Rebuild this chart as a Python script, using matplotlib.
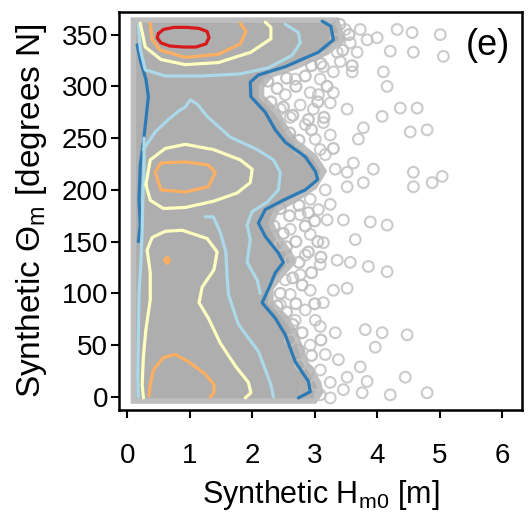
import matplotlib
matplotlib.use("Agg")
import matplotlib.pyplot as plt
import numpy as np

plt.rcParams['font.family'] = ['Liberation Sans', 'DejaVu Sans']
plt.rcParams['mathtext.fontset'] = 'custom'
plt.rcParams['mathtext.rm'] = 'Liberation Sans'

# scattered (outer) samples: Hm0 [m], theta [deg N]
outer_hs = [4.00, 4.32, 4.56, 5.01, 4.58, 5.06, 4.21, 3.84, 3.57, 3.73, 4.10, 4.16, 3.60, 3.30,
            4.37, 4.64, 4.08, 4.53, 4.80, 3.78, 3.70, 4.58, 4.58, 4.88, 5.04, 3.94, 3.62, 3.52,
            3.78, 3.52, 3.25, 2.98, 3.14, 3.52, 3.30, 2.93, 3.36, 3.14, 3.68, 3.89, 4.16, 3.65,
            3.14, 3.46, 3.20, 3.86, 4.16, 3.57, 3.36, 3.52, 3.30, 3.14, 3.81, 4.08, 4.48, 3.97,
            3.33, 3.09, 3.73, 3.38, 3.84, 4.45, 4.21, 4.80, 3.76, 3.46, 3.25, 3.52,
            3.09, 3.06, 2.77, 2.61, 2.85, 3.01, 3.25, 3.17, 3.33, 3.17, 3.25, 2.93, 2.77, 2.61,
            2.93, 2.85, 3.09, 2.77, 2.61, 2.93, 2.85, 2.69, 3.01, 2.93, 3.17, 3.09, 3.25, 3.49,
            3.33, 3.41, 2.69, 2.53, 2.45, 2.77, 3.09, 3.06, 2.45, 2.61, 2.53, 2.45, 2.61, 2.77,
            3.01, 3.09]
outer_theta = [347, 355, 352, 350, 333, 329, 334, 345, 342, 355, 314, 300, 314, 314,
               279, 279, 271, 256, 258, 260, 249, 217, 203, 207, 213, 220, 226, 217,
               207, 203, 284, 278, 265, 278, 294, 294, 333, 319, 333, 169, 166, 152,
               149, 171, 171, 126, 121, 130, 132, 105, 103, 91, 65, 62, 60, 48,
               62, 68, 29, 36, 15, 19, 2, 4, 4, 7, 14, 19,
               307, 292, 282, 270, 263, 249, 253, 234, 220, 200, 186, 191, 176, 162,
               157, 137, 128, 118, 99, 103, 84, 74, 74, 50, 41, 26, -1, 355,
               345, 324, 307, 292, 278, 239, 239, 181, 147, 132, 113, 89, 55, 31,
               12, 2]

# overlapping samples just outside the dense core
fringe_hs = [2.25, 2.40, 2.55, 2.70, 2.85, 2.95, 3.10, 2.30, 2.50, 2.65, 2.90, 3.05, 3.20,
             2.40, 2.60, 2.75, 2.95, 3.15, 3.30,
             2.45, 2.60, 2.75, 2.90, 2.35, 2.50, 2.70, 2.85, 3.00, 2.55, 2.75, 2.90, 3.05,
             2.65, 2.80, 2.45, 2.95, 3.10,
             2.40, 2.55, 2.70, 2.65, 2.80, 2.75, 2.95, 2.90, 3.10, 3.00, 2.85,
             3.45, 3.55, 3.40, 3.60]
fringe_theta = [305, 298, 308, 300, 310, 320, 322, 285, 280, 272, 268, 285, 300,
                262, 255, 248, 258, 270, 240,
                182, 175, 185, 178, 165, 158, 150, 165, 170, 145, 130, 140, 150,
                115, 108, 100, 120, 135,
                88, 82, 90, 70, 62, 45, 40, 25, 55, 90, 5,
                335, 350, 360, 320]

# envelope of the dense sample cloud
cloud_hs = [0.10, 0.10, 3.35, 3.45, 3.20, 2.70, 2.30, 2.15, 2.15, 2.40, 2.55, 2.70, 3.00,
            3.15, 3.00, 2.70, 2.40, 2.30, 2.40, 2.60, 2.65, 2.50, 2.30, 2.30, 2.55, 2.70,
            2.85, 3.05, 3.10, 3.00]
cloud_theta = [-4, 364, 364, 345, 333, 319, 311, 300, 290, 275, 258, 246, 232,
               218, 203, 191, 181, 168, 155, 139, 130, 120, 105, 91, 76, 60,
               34, 15, 5, -4]

# density contours (outermost -> innermost)
blue_right_hs = [3.12, 3.26, 3.30, 3.06, 2.53, 2.10, 1.97, 1.98, 2.21, 2.37, 2.53, 2.85, 3.01,
                 3.05, 2.85, 2.53, 2.21, 2.10, 2.21, 2.42, 2.50, 2.37, 2.29, 2.16, 2.37,
                 2.53, 2.69, 2.90, 2.93, 2.74]
blue_right_theta = [363, 358, 345, 333, 319, 311, 304, 290, 275, 258, 246, 232, 218,
                    210, 200, 191, 181, 168, 155, 139, 130, 120, 108, 91, 76,
                    60, 34, 15, 5, -1]
blue_left_hs = [0.16, 0.22, 0.30, 0.34, 0.30, 0.26, 0.21, 0.19, 0.21, 0.18]
blue_left_theta = [340, 323, 307, 290, 268, 246, 224, 191, 166, 150]

lblue_top_hs = [2.53, 2.74, 2.77, 2.64, 2.26, 1.81, 1.17, 0.61, 0.29, 0.21, 0.18]
lblue_top_theta = [360, 352, 342, 330, 318, 312, 310, 310, 316, 336, 360]
lblue_mid_hs = [0.26, 0.45, 0.66, 0.82, 0.93, 1.01, 1.12, 1.28, 1.65, 2.08, 2.34, 2.45, 2.42,
                2.24, 2.00, 1.92, 1.97, 1.92, 2.08, 2.13]
lblue_mid_theta = [239, 256, 268, 276, 280, 287, 283, 271, 251, 239, 229, 217, 200,
                   188, 179, 166, 152, 130, 113, 100]
lblue_low_hs = [1.25, 1.38, 1.49, 1.58, 1.60, 1.62, 1.78, 2.10, 2.30, 2.34]
lblue_low_theta = [174, 174, 159, 140, 116, 99, 70, 44, 12, 0]
lblue_left_hs = [0.27, 0.27, 0.25, 0.24, 0.22, 0.19, 0.18, 0.17, 0.18]
lblue_left_theta = [250, 220, 190, 160, 130, 100, 60, 20, 0]

yellow_top_hs = [0.21, 0.29, 0.54, 0.93, 1.46, 1.98, 2.30, 2.30, 2.21]
yellow_top_theta = [361, 338, 326, 321, 323, 333, 346, 357, 362]
yellow_mid_hs = [0.30, 0.37, 0.61, 0.93, 1.38, 1.81, 2.00, 1.97, 1.76, 1.38, 0.93, 0.58,
                 0.37, 0.30]
yellow_mid_theta = [205, 229, 240, 244, 239, 229, 220, 207, 197, 189, 183, 182, 190, 205]
yellow_low_hs = [0.26, 0.24, 0.26, 0.30, 0.37, 0.37, 0.32, 0.40, 0.61, 0.88, 1.28, 1.44,
                 1.39, 1.20, 1.15, 1.30, 1.49, 1.73, 1.94, 1.98, 1.89]
yellow_low_theta = [-1, 12, 39, 65, 94, 120, 142, 154, 160, 161, 153, 140,
                    123, 106, 91, 76, 52, 30, 14, 4, -1]

orange_top_hs = [0.37, 0.40, 0.53, 0.93, 1.46, 1.81, 1.90, 1.81]
orange_top_theta = [361, 345, 335, 328, 331, 341, 353, 361]
orange_mid_hs = [0.45, 0.54, 0.93, 1.30, 1.41, 1.30, 0.93, 0.54, 0.45]
orange_mid_theta = [217, 226, 227, 224, 217, 203, 198, 200, 217]
orange_dot_hs = [0.60, 0.64, 0.68, 0.64, 0.60]
orange_dot_theta = [132, 135, 132, 129, 132]
orange_low_hs = [0.35, 0.37, 0.42, 0.58, 0.77, 0.98, 1.25, 1.39, 1.39, 1.33]
orange_low_theta = [1, 12, 26, 38, 41, 34, 22, 12, 4, 0]

red_hs = [0.50, 0.58, 0.75, 0.95, 1.15, 1.28, 1.31, 1.26, 1.10, 0.90, 0.68, 0.54, 0.48, 0.50]
red_theta = [351, 355, 357, 357, 356, 353, 347, 341, 338, 338, 339, 342, 347, 351]

fig = plt.figure(figsize=(5.29, 5.15), dpi=100)
ax = fig.add_axes([0.225, 0.204, 0.762, 0.773])

# soft halo round the dense cloud, then the cloud itself
ax.fill(cloud_hs, cloud_theta, facecolor='#aeaeae', edgecolor='#bebebe', lw=4, zorder=1)
ax.scatter(fringe_hs, fringe_theta, s=60, facecolors='none', edgecolors='#b4b4b4',
           linewidths=1.6, alpha=0.8, zorder=1.5)
ax.scatter(outer_hs, outer_theta, s=60, facecolors='none', edgecolors='#c2c2c2',
           linewidths=1.5, alpha=0.85, zorder=2)

lines = [
    (blue_right_hs, blue_right_theta, '#2c7bb6'),
    (blue_left_hs, blue_left_theta, '#2c7bb6'),
    (lblue_top_hs, lblue_top_theta, '#abd9e9'),
    (lblue_mid_hs, lblue_mid_theta, '#abd9e9'),
    (lblue_low_hs, lblue_low_theta, '#abd9e9'),
    (lblue_left_hs, lblue_left_theta, '#abd9e9'),
    (yellow_top_hs, yellow_top_theta, '#ffffbf'),
    (yellow_mid_hs, yellow_mid_theta, '#ffffbf'),
    (yellow_low_hs, yellow_low_theta, '#ffffbf'),
    (orange_top_hs, orange_top_theta, '#fdae61'),
    (orange_mid_hs, orange_mid_theta, '#fdae61'),
    (orange_dot_hs, orange_dot_theta, '#fdae61'),
    (orange_low_hs, orange_low_theta, '#fdae61'),
    (red_hs, red_theta, '#d7191c'),
]
for hs, th, c in lines:
    ax.plot(hs, th, color=c, lw=2.3, zorder=3, solid_capstyle='round')

ax.set_xlim(-0.13, 6.32)
ax.set_ylim(-12.6, 372)
ax.set_xticks(range(7))
ax.set_yticks(range(0, 351, 50))
ax.tick_params(labelsize=20, width=1.5, length=6, direction='out')
ax.tick_params(axis='x', pad=18)
ax.tick_params(axis='y', pad=2)
for sp in ax.spines.values():
    sp.set_linewidth(1.8)

ax.set_xlabel('Synthetic H$_\\mathregular{m0}$ [m]', fontsize=22, labelpad=6)
ax.set_ylabel('Synthetic \u0398$_\\mathregular{m}$ [degrees N]', fontsize=24, labelpad=9)
ax.text(0.915, 0.915, '(e)', transform=ax.transAxes, fontsize=26, ha='center', va='center')

fig.savefig('out.png', dpi=100)
